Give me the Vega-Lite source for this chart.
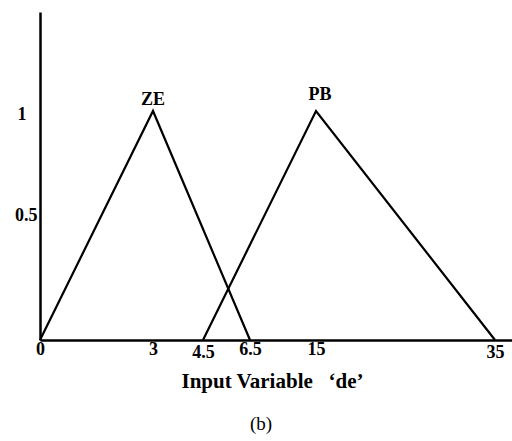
{
  "$schema": "https://vega.github.io/schema/vega-lite/v6.json",
  "width": 472,
  "height": 328,
  "autosize": "none",
  "padding": {"left": 40, "top": 12, "right": 0, "bottom": 101},
  "background": "white",
  "title": {"text": "(b)", "orient": "bottom", "font": "Liberation Serif", "fontSize": 19, "fontWeight": "normal", "color": "black", "offset": 24, "dx": -15},
  "config": {"view": {"stroke": null}},
  "datasets": {
    "mf": [
      {"set": "ZE", "x": 0, "mu": 0},
      {"set": "ZE", "x": 3, "mu": 1},
      {"set": "ZE", "x": 6.5, "mu": 0},
      {"set": "PB", "x": 4.5, "mu": 0},
      {"set": "PB", "x": 15, "mu": 1},
      {"set": "PB", "x": 35, "mu": 0}
    ],
    "labels": [
      {"set": "ZE", "x": 3, "mu": 1},
      {"set": "PB", "x": 15, "mu": 1}
    ]
  },
  "layer": [
    {
      "data": {"name": "mf"},
      "mark": {"type": "line", "color": "black", "strokeWidth": 2.2},
      "encoding": {
        "x": {
          "field": "x", "type": "quantitative",
          "scale": {"domain": [0, 3, 4.5, 6.5, 15, 35, 36.9], "range": [0, 113, 163, 210, 276, 455, 472]},
          "axis": {
            "values": [0, 3, 4.5, 6.5, 15, 35],
            "format": "~g",
            "title": "Input Variable\u00a0\u00a0\u00a0‘de’",
            "titleFont": "Liberation Serif", "titleFontSize": 21, "titleFontWeight": "bold", "titleColor": "black", "titlePadding": 9, "titleX": 232,
            "labelFont": "Liberation Serif", "labelFontSize": 18, "labelFontWeight": "bold", "labelColor": "black",
            "labelOverlap": false, "labelBound": false, "labelFlush": false,
            "labelPadding": {"condition": {"test": "datum.value == 4.5 || datum.value == 35", "value": 3}, "value": 0},
            "ticks": false, "grid": false,
            "domainColor": "black", "domainWidth": 2.5
          }
        },
        "y": {
          "field": "mu", "type": "quantitative",
          "scale": {"domain": [0, 1.432], "nice": false, "zero": true},
          "axis": {
            "values": [0.5, 1],
            "format": "~g",
            "title": null,
            "labelFont": "Liberation Serif", "labelFontSize": 18, "labelFontWeight": "bold", "labelColor": "black",
            "labelOffset": {"condition": {"test": "datum.value == 0.5", "value": -10}, "value": 4},
            "labelPadding": {"condition": {"test": "datum.value == 0.5", "value": 3}, "value": 14},
            "ticks": false, "grid": false,
            "domainColor": "black", "domainWidth": 2.5
          }
        },
        "detail": {"field": "set"}
      }
    },
    {
      "data": {"name": "labels"},
      "transform": [{"filter": "datum.set == 'ZE'"}],
      "mark": {"type": "text", "font": "Liberation Serif", "fontSize": 18, "fontWeight": "bold", "color": "black", "dy": -2, "baseline": "bottom"},
      "encoding": {
        "x": {"field": "x", "type": "quantitative"},
        "y": {"field": "mu", "type": "quantitative"},
        "text": {"field": "set"}
      }
    },
    {
      "data": {"name": "labels"},
      "transform": [{"filter": "datum.set == 'PB'"}],
      "mark": {"type": "text", "font": "Liberation Serif", "fontSize": 18, "fontWeight": "bold", "color": "black", "dy": -7, "dx": 4, "baseline": "bottom"},
      "encoding": {
        "x": {"field": "x", "type": "quantitative"},
        "y": {"field": "mu", "type": "quantitative"},
        "text": {"field": "set"}
      }
    }
  ]
}
